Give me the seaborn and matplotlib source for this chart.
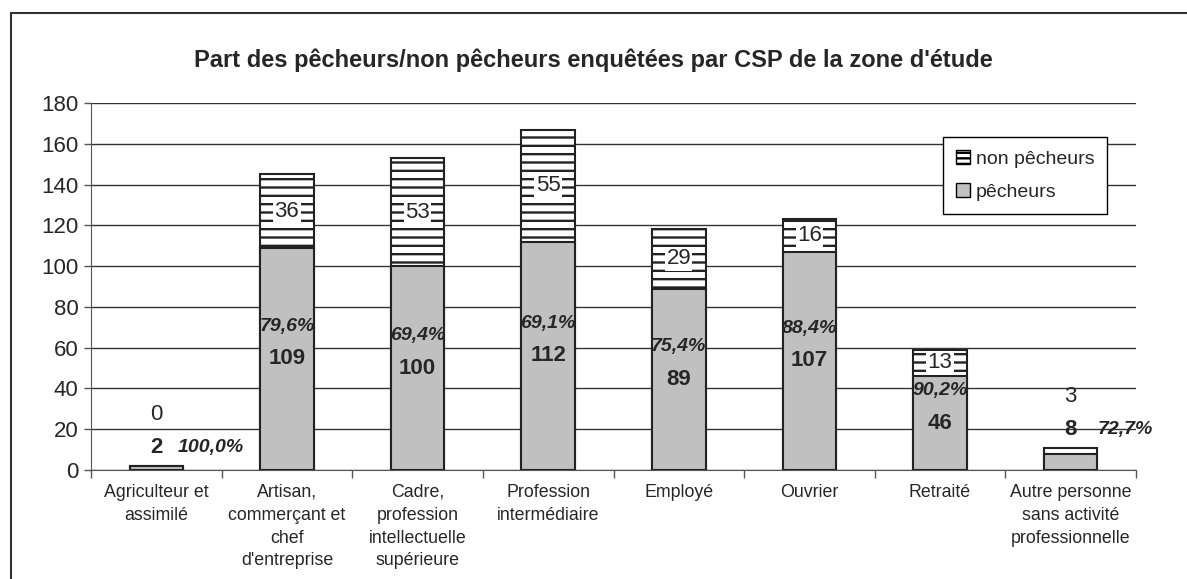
import matplotlib
matplotlib.use("Agg")
import matplotlib.pyplot as plt
import seaborn as sns
import pandas as pd
import numpy as np
from matplotlib.lines import Line2D
from matplotlib.patches import Patch

categories = ["Agriculteur et\nassimilé", "Artisan,\ncommerçant et\nchef\nd'entreprise",
              "Cadre,\nprofession\nintellectuelle\nsupérieure", "Profession\nintermédiaire",
              "Employé", "Ouvrier", "Retraité", "Autre personne\nsans activité\nprofessionnelle"]
pecheurs = [2, 109, 100, 112, 89, 107, 46, 8]
non_pecheurs = [0, 36, 53, 55, 29, 16, 13, 3]
pct_labels = ["100,0%", "79,6%", "69,4%", "69,1%", "75,4%", "88,4%", "90,2%", "72,7%"]
y_ticks = list(range(0, 181, 20))

sns.set_style("white")
plt.rcParams['font.family'] = ['Liberation Sans', 'DejaVu Sans']
plt.rcParams['hatch.linewidth'] = 1.7

df = pd.DataFrame({"cat": categories, "pecheurs": pecheurs, "non": non_pecheurs})
df["total"] = df["pecheurs"] + df["non"]

fig = plt.figure(figsize=(11.87, 5.79), dpi=100)
ax = fig.add_axes([91 / 1187, 1 - 470 / 579, (1136 - 91) / 1187, (470 - 103) / 579])

# total bar (hatched non pecheurs on top), then pecheurs over it
sns.barplot(data=df, x="cat", y="total", color="white", width=0.41, ax=ax,
            edgecolor="#222222", linewidth=1.5, saturation=1, zorder=3)
for p in ax.patches:
    p.set_hatch("--")
    p.set_facecolor("white")
sns.barplot(data=df, x="cat", y="pecheurs", color="#C0C0C0", width=0.41, ax=ax,
            edgecolor="#222222", linewidth=1.5, saturation=1, zorder=4)

ax.set_ylim(0, 180)
ax.set_xlim(-0.5, len(categories) - 0.5)
ax.set_yticks(y_ticks)
ax.tick_params(axis="y", labelsize=16, length=5, width=1, direction="out", left=True,
               color="#555555", pad=4)
ax.set_xticks(range(len(categories)))
ax.set_xticklabels(categories, fontsize=12.8, linespacing=1.45)
ax.tick_params(axis="x", length=0, pad=10)
ax.set_xticks(np.arange(-0.5, len(categories), 1), minor=True)
ax.tick_params(axis="x", which="minor", length=6, width=1, color="#555555", bottom=True)
ax.set_xlabel("")
ax.set_ylabel("")
ax.yaxis.grid(True, color="#333333", linewidth=1)
ax.set_axisbelow(True)
for s in ["top", "right"]:
    ax.spines[s].set_visible(False)
ax.spines["left"].set_color("#555555")
ax.spines["bottom"].set_color("#555555")

for i, (pe, no, pc) in enumerate(zip(pecheurs, non_pecheurs, pct_labels)):
    tot = pe + no
    if tot < 15:
        ax.text(i, tot + 9, str(pe), ha="center", va="center", fontsize=16, fontweight="bold", zorder=6)
        ax.text(i, tot + 25, str(no), ha="center", va="center", fontsize=16, zorder=6)
        ax.text(i + 0.42, tot + 9, pc, ha="center", va="center", fontsize=14,
                fontweight="bold", fontstyle="italic", zorder=6)
    else:
        ax.text(i, pe / 2, str(pe), ha="center", va="center", fontsize=16, fontweight="bold", zorder=6)
        ax.text(i, pe / 2 + 16, pc, ha="center", va="center", fontsize=14,
                fontweight="bold", fontstyle="italic", zorder=6)
        ax.text(i, pe + no / 2, str(no), ha="center", va="center", fontsize=16, zorder=6,
                bbox=dict(facecolor="white", edgecolor="none", pad=1))

handles = [Patch(facecolor="white", edgecolor="black", hatch="---", label="non pêcheurs"),
           Patch(facecolor="#C0C0C0", edgecolor="black", label="pêcheurs")]
leg = ax.legend(handles=handles, loc="upper left", bbox_to_anchor=((943 - 91) / 1045, 1 - (137 - 103) / 367),
                fontsize=14, frameon=True, fancybox=False, edgecolor="black", framealpha=1,
                handlelength=0.75, handleheight=0.75, handletextpad=0.3, labelspacing=0.8,
                borderpad=0.65, borderaxespad=0)
leg.get_frame().set_linewidth(1)
leg.set_zorder(10)

fig.text(0.5, 1 - 60 / 579, "Part des pêcheurs/non pêcheurs enquêtées par CSP de la zone d'étude",
         ha="center", va="center", fontsize=17, fontweight="bold")

y_top = 1 - 12.5 / 579
x_left = 10.5 / 1187
fig.add_artist(Line2D([x_left, 1], [y_top, y_top], color="#333333", linewidth=1.5, transform=fig.transFigure))
fig.add_artist(Line2D([x_left, x_left], [0, y_top], color="#333333", linewidth=1.5, transform=fig.transFigure))

fig.savefig("out.png", dpi=100)
